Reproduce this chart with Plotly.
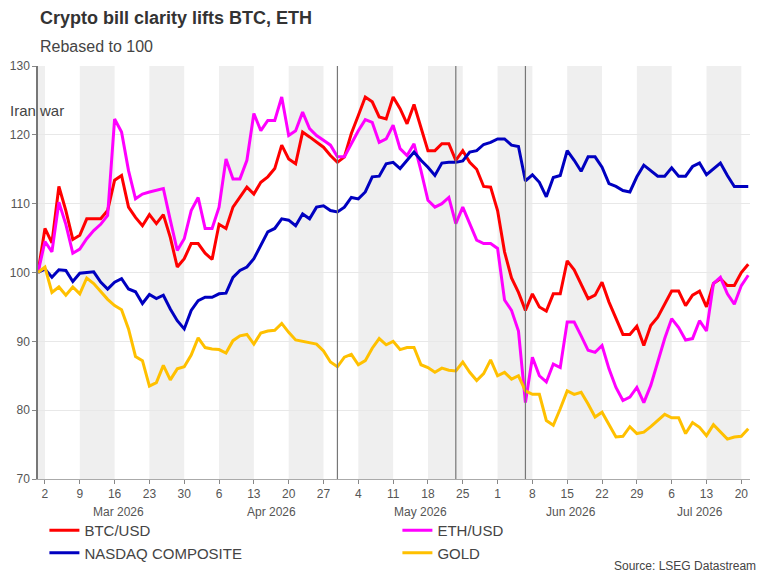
import pandas as pd
import plotly.graph_objects as go

# weekday dates, Fri 27 Feb 2026 .. Tue 21 Jul 2026
dates = pd.bdate_range("2026-02-27", "2026-07-21")

btc = [100, 106.4, 104.3, 112.5, 109, 104.8, 105.4, 107.8, 107.8, 107.8,
       109, 113.4, 114.1, 109.5, 108, 106.8, 108.4, 107.1, 108.4, 105.1,
       100.8, 102, 104.2, 104.2, 102.8, 101.9, 107, 106.4, 109.5, 111,
       112.4, 111.4, 113.1, 113.9, 115.1, 118.5, 116.5, 115.8, 120.4, 119.7,
       118.9, 118.2, 117, 116, 116.8, 120.2, 122.8, 125.5, 124.8, 122.6,
       122.3, 125.5, 123.8, 121.6, 124.4, 121.1, 117.7, 117.7, 118.7, 118.7,
       116.3, 117.7, 116, 115, 112.5, 112.4, 109, 103, 99.2, 97.1,
       94.5, 96.9, 95, 94.4, 96.9, 96.9, 101.7, 100.4, 98.4, 96.2,
       96.7, 98.6, 95.7, 93.3, 91, 91, 92.2, 89.4, 92.3, 93.5,
       95.5, 97.3, 97.3, 95.2, 96.7, 97.3, 95, 98.4, 99.1, 98.1,
       98.1, 100, 101.2]

eth = [100, 104.5, 103, 110.2, 107, 102.8, 103.4, 104.9, 106.1, 107,
       108.3, 122.3, 120.4, 114.8, 110.7, 111.4, 111.7, 111.9, 112.2, 107.6,
       103.2, 104.9, 109, 110.9, 106.4, 106.4, 109.5, 116.5, 113.6, 113.6,
       116.3, 123.1, 120.6, 122.1, 122.1, 125.5, 119.9, 120.6, 123.3, 120.9,
       119.9, 119.2, 118.5, 116.8, 116.8, 118.7, 120.6, 122.2, 121.8, 118.9,
       119.4, 121.4, 118, 117, 118.7, 114.8, 110.5, 109.5, 110, 110.9,
       107.1, 109.5, 107.1, 104.7, 104.2, 104.2, 103.5, 96, 94.5, 91.5,
       81.1, 87.7, 85, 84.1, 86.7, 86.2, 92.8, 92.8, 90.8, 88.7,
       88.4, 89.4, 86, 83.3, 81.4, 81.9, 83.3, 81.1, 83.6, 87.2,
       90.4, 93.3, 92, 90.2, 90.4, 93, 91.5, 98.4, 99.3, 96.9,
       95.4, 98.1, 99.6]

nasdaq = [100, 100.5, 99.3, 100.4, 100.3, 98.7, 99.9, 100, 100.1, 98.6,
          97.6, 98.6, 99.1, 97.6, 97.2, 95.5, 96.8, 96.2, 96.7, 94.7,
          93, 91.8, 94.5, 95.9, 96.4, 96.4, 96.9, 97, 99.3, 100.3,
          100.8, 102, 104, 105.9, 106.4, 107.8, 107.6, 106.8, 108.5, 107.8,
          109.5, 109.7, 109, 108.8, 109.5, 110.9, 110.7, 111.7, 113.9, 114,
          115.8, 116, 115.1, 116.3, 117.5, 116.3, 115.3, 114.1, 115.9, 116,
          116, 116.2, 117.5, 117.7, 118.6, 118.9, 119.4, 119.4, 118.5, 118.3,
          113.3, 114.2, 113.1, 111, 113.8, 114.1, 117.7, 116.3, 114.7, 116.8,
          116.8, 115.3, 112.9, 112.5, 111.9, 111.7, 113.9, 115.6, 114.8, 114,
          114, 115.2, 114, 114, 115.4, 115.9, 114.2, 115.1, 115.9, 114.1,
          112.5, 112.5, 112.5]

gold = [100, 100.8, 97.1, 97.9, 96.7, 97.9, 96.9, 99.2, 98.4, 97.2,
        96.1, 95.2, 94.6, 91.8, 87.8, 87.2, 83.5, 84, 86.5, 84.4,
        86, 86.3, 88, 90.5, 89.1, 88.9, 88.8, 88.3, 90.1, 90.8,
        91, 89.6, 91.2, 91.5, 91.6, 92.6, 91.3, 90.2, 90, 89.9,
        89.6, 88.6, 87, 86.3, 87.7, 88.1, 86.6, 87.2, 89, 90.4,
        89.5, 90, 88.8, 89.1, 89.1, 86.6, 86.2, 85.5, 86.1, 85.8,
        85.7, 87, 85.5, 84.3, 85.3, 87.3, 85, 85.5, 84.5, 85,
        82.8, 82.3, 82.3, 78.5, 77.8, 80.2, 82.8, 82.3, 82.6, 80.9,
        79, 79.7, 78, 76.1, 76.2, 77.6, 76.6, 76.8, 77.6, 78.5,
        79.4, 78.9, 78.9, 76.6, 78.2, 77.5, 76.3, 77.9, 76.9, 75.8,
        76.1, 76.2, 77.3]

series_names = ["BTC/USD", "ETH/USD", "NASDAQ COMPOSITE", "GOLD"]
series_values = [btc, eth, nasdaq, gold]
series_colors = ["#ff0000", "#ff00ff", "#0000c0", "#ffc000"]

tick_dates = pd.date_range("2026-03-02", "2026-07-20", freq="7D")
band_starts = ["2026-02-27", "2026-03-09", "2026-03-23", "2026-04-06", "2026-04-20",
               "2026-05-04", "2026-05-18", "2026-06-01", "2026-06-15", "2026-06-29",
               "2026-07-13"]
band_ends = ["2026-03-02", "2026-03-16", "2026-03-30", "2026-04-13", "2026-04-27",
             "2026-05-11", "2026-05-25", "2026-06-08", "2026-06-22", "2026-07-06",
             "2026-07-20"]
event_dates = ["2026-04-29", "2026-05-22", "2026-06-05"]
month_labels = ["Mar 2026", "Apr 2026", "May 2026", "Jun 2026", "Jul 2026"]
month_label_dates = ["2026-03-16 12:00", "2026-04-15 12:00", "2026-05-15", "2026-06-15 12:00", "2026-07-10"]

FONT = "Liberation Sans, Arial, sans-serif"

fig = go.Figure()
for name, vals, col in zip(series_names, series_values, series_colors):
    fig.add_trace(go.Scatter(x=dates, y=vals, name=name, mode="lines",
                             line=dict(color=col, width=3)))

shapes = []
for s, e in zip(band_starts, band_ends):
    shapes.append(dict(type="rect", xref="x", yref="paper", x0=s, x1=e, y0=0, y1=1,
                       fillcolor="#efefef", line=dict(width=0), layer="below"))
for d in event_dates:
    shapes.append(dict(type="line", xref="x", yref="paper", x0=d, x1=d, y0=0, y1=1,
                       line=dict(color="#777777", width=1.2), layer="above"))

annotations = [
    dict(text="<b>Crypto bill clarity lifts BTC, ETH</b>", xref="paper", yref="paper",
         x=0, y=1.116, xanchor="left", yanchor="middle", showarrow=False, xshift=0,
         font=dict(family=FONT, size=18, color="#333333")),
    dict(text="Rebased to 100", xref="paper", yref="paper",
         x=0, y=1.048, xanchor="left", yanchor="middle", showarrow=False, xshift=0,
         font=dict(family=FONT, size=16, color="#444444")),
    dict(text="Iran war", xref="paper", yref="y", x=0, y=123.5, xanchor="center",
         yanchor="middle", showarrow=False, xshift=-1,
         font=dict(family=FONT, size=15, color="#444444")),
    dict(text="Source: LSEG Datastream", xref="paper", yref="paper", x=1.011, y=-0.211,
         xanchor="right", yanchor="middle", showarrow=False,
         font=dict(family=FONT, size=12, color="#444444")),
]
for lab, d in zip(month_labels, month_label_dates):
    annotations.append(dict(text=lab, xref="x", yref="paper", x=d, y=-0.08,
                            xanchor="center", yanchor="middle", showarrow=False,
                            font=dict(family=FONT, size=12, color="#555555")))

fig.update_layout(
    width=768, height=576,
    margin=dict(l=38, r=18, t=66, b=97, autoexpand=False),
    paper_bgcolor="white", plot_bgcolor="white",
    font=dict(family=FONT, size=12, color="#555555"),
    showlegend=True,
    legend=dict(orientation="h", x=0.009, y=-0.085, xanchor="left", yanchor="top",
                entrywidth=308, entrywidthmode="pixels", traceorder="normal",
                font=dict(family=FONT, size=15, color="#444444"),
                bgcolor="rgba(0,0,0,0)"),
    shapes=shapes,
    annotations=annotations,
    xaxis=dict(type="date", range=["2026-02-27", "2026-07-21 06:00"],
               rangebreaks=[dict(bounds=["sat", "mon"])],
               tickvals=tick_dates, tickformat="%-d", ticks="outside", ticklen=4,
               tickcolor="#888888", showgrid=False, showline=True, linecolor="#aaaaaa",
               zeroline=False, tickfont=dict(family=FONT, size=12, color="#555555")),
    yaxis=dict(range=[70, 130], dtick=10, ticks="outside", ticklen=4, tickcolor="#888888",
               showline=True, linecolor="#777777", linewidth=1.5, gridcolor="#e8e8e8",
               zeroline=False, tickfont=dict(family=FONT, size=12, color="#555555")),
)

fig.write_html("out.html")
